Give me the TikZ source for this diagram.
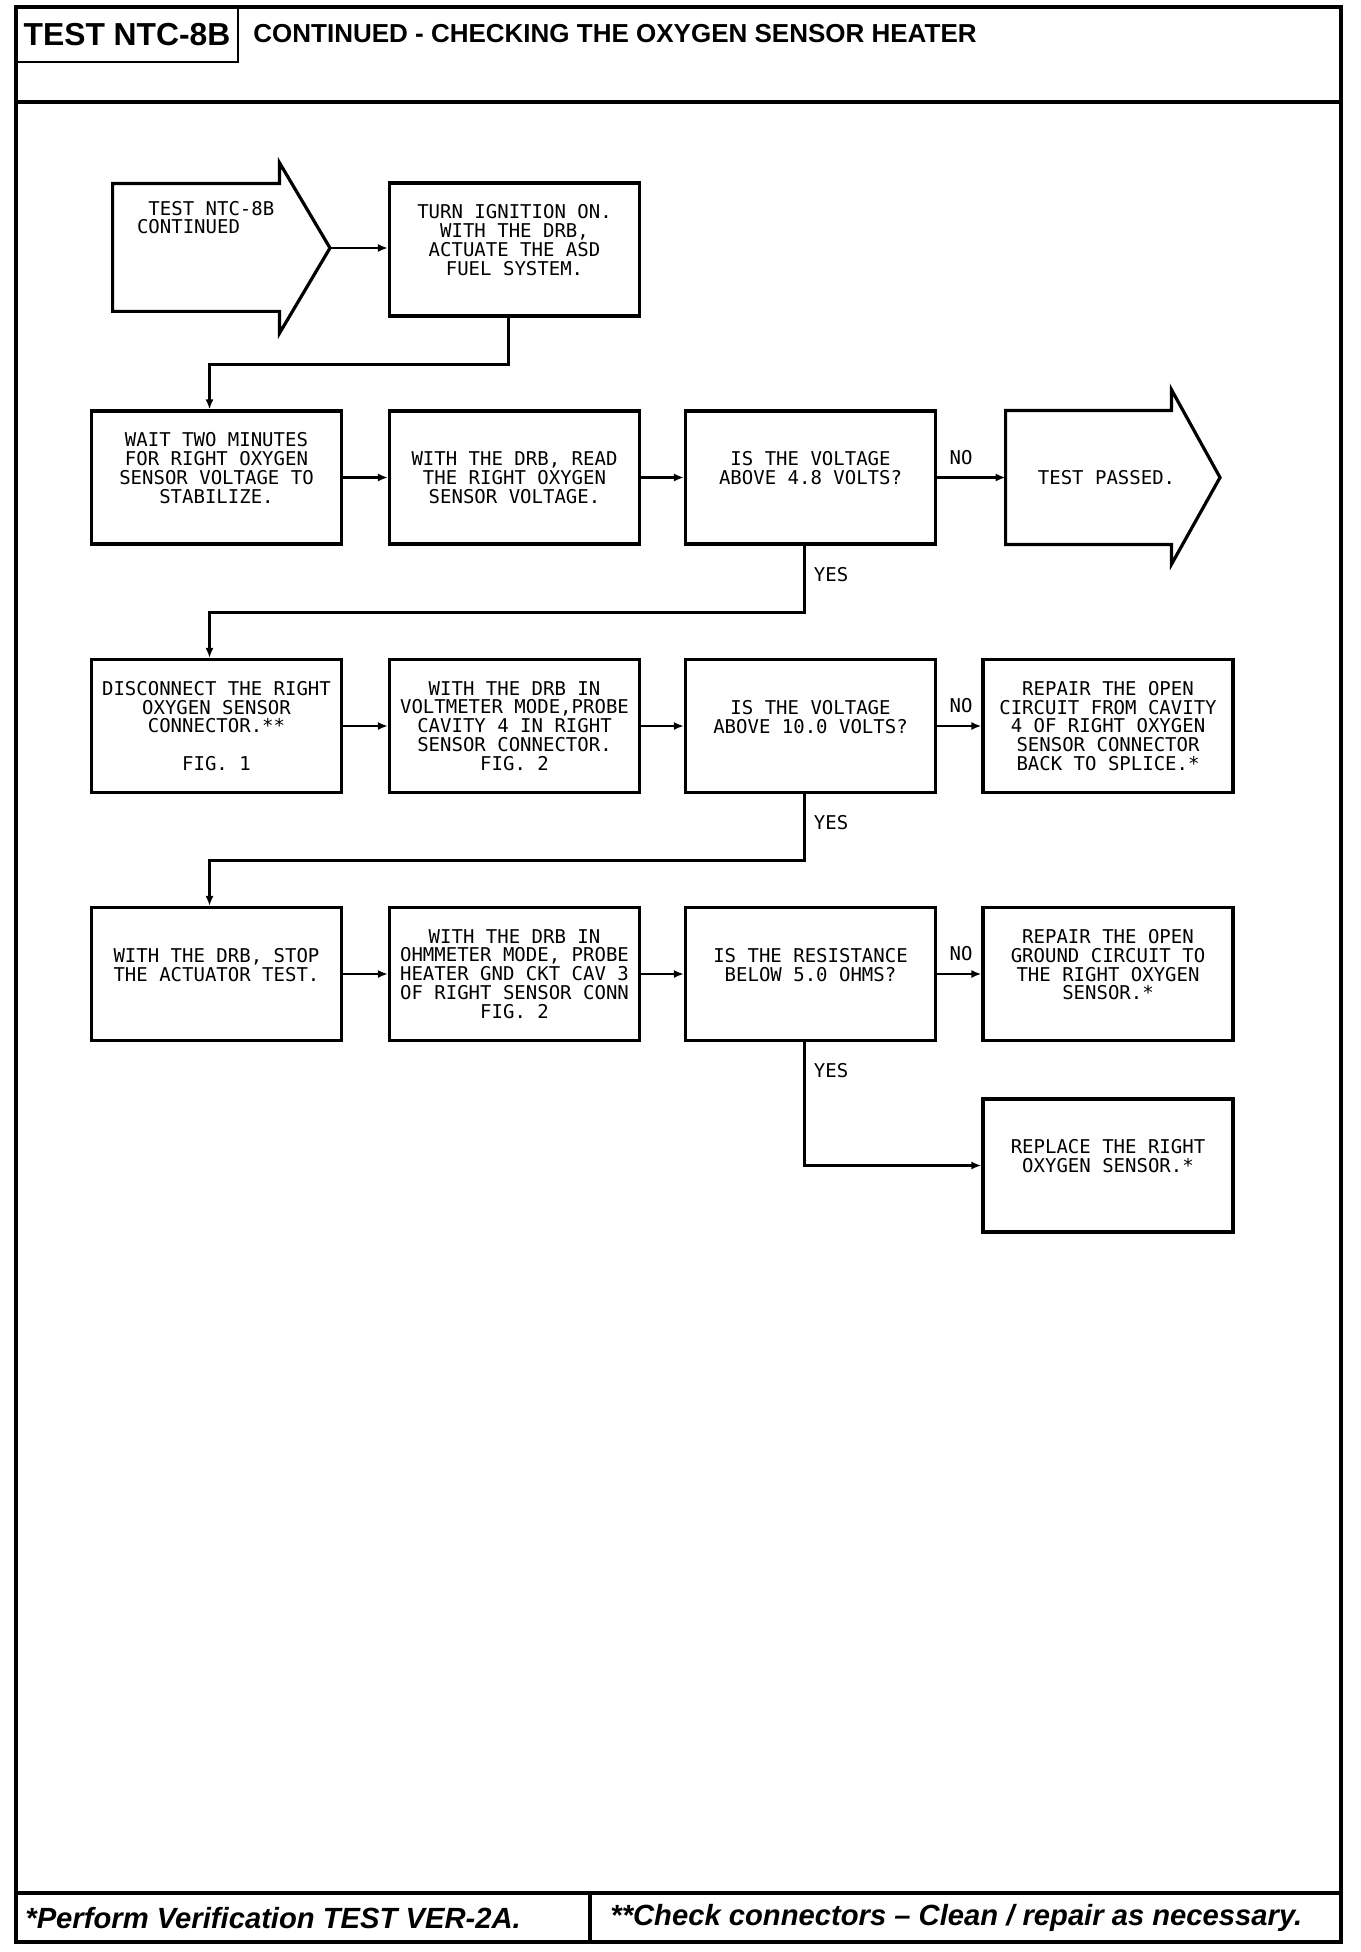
\documentclass[tikz,border=0pt]{standalone}
\usepackage{fontspec}
\setmainfont{Liberation Sans}
\newfontfamily\plotfont{DejaVu Sans Mono}
\usetikzlibrary{arrows.meta}

\begin{document}
\begin{tikzpicture}[x=.5pt,y=-.5pt,>={Latex[length=5pt,width=4pt]},
  box/.style={draw,line width=1.6pt,minimum width=125pt,minimum height=66.5pt,inner sep=0pt,align=center,font={\fontsize{9.5}{9.4}\plotfont}},
  txt/.style={inner sep=0pt,align=center,font={\fontsize{9.5}{9.4}\plotfont}},
  shell/.style={inner sep=0pt,minimum width=#1,minimum height=65pt},
  flow/.style={->,line width=1.4pt},
  rule/.style={line width=1.8pt}]
\useasboundingbox (0,0) rectangle (1360,1952);
\draw[rule] (16,7) rectangle (1341,1942);\draw[rule] (16,102)--(1341,102);
\draw[rule] (16,1893)--(1341,1893);\draw[rule] (590,1893)--(590,1942);
\node[draw,line width=1pt,minimum width=111pt,minimum height=27.5pt,font=\bfseries\fontsize{15.9}{18}\selectfont] (code) at (127,34.5){TEST NTC-8B};
\node[anchor=west,inner sep=0pt,font=\bfseries\fontsize{13}{15}\selectfont] (title) at (253,34){CONTINUED - CHECKING THE OXYGEN SENSOR HEATER};
\node[anchor=west,inner sep=0pt,font=\bfseries\itshape\fontsize{14.6}{17}\selectfont] (note1) at (25,1918){*Perform Verification TEST VER-2A.};
\node[anchor=west,inner sep=0pt,font=\bfseries\itshape\fontsize{14.6}{17}\selectfont] (note2) at (610,1918){**Check connectors -- Clean / repair as necessary.};
\node[shell=83pt,minimum height=63.5pt] (start) at (196,247.5){};\coordinate (starttip) at (330,248);
\draw[line width=1.6pt] (start.north west)--(start.north east)--([shift={(0,-21)}]start.north east)--(starttip)--([shift={(0,22)}]start.south east)--(start.south east)--(start.south west)--cycle;
\node[txt,align=left,anchor=north west] (starttxt) at ([shift={(24,17)}]start.north west){~TEST NTC-8B\\CONTINUED};
\node[box] (turn) at (514.5,249.5){TURN IGNITION ON.\\WITH THE DRB,\\ACTUATE THE ASD\\FUEL SYSTEM.\\~};
\node[box] (wait) at (216.5,477.5){WAIT TWO MINUTES\\FOR RIGHT OXYGEN\\SENSOR VOLTAGE TO\\STABILIZE.\\~};
\node[box] (read) at (514.5,477.5){WITH THE DRB, READ\\THE RIGHT OXYGEN\\SENSOR VOLTAGE.};
\node[box] (q1) at (810.5,477.5){IS THE VOLTAGE\\ABOVE 4.8 VOLTS?\\~};
\node[shell=82.5pt,minimum height=66.5pt] (pass) at (1088.5,477.5){};\coordinate (passtip) at (1220,477.5);
\draw[line width=1.6pt] (pass.north west)--(pass.north east)--([shift={(0,-21)}]pass.north east)--(passtip)--([shift={(0,20)}]pass.south east)--(pass.south east)--(pass.south west)--cycle;
\node[txt] (passtxt) at ([shift={(18,0)}]pass.center){TEST PASSED.};
\node[box] (disc) at (216.5,726){DISCONNECT THE RIGHT\\OXYGEN SENSOR\\CONNECTOR.**\\~\\FIG. 1};
\node[box] (probe) at (514.5,726){WITH THE DRB IN\\VOLTMETER MODE,PROBE\\CAVITY 4 IN RIGHT\\SENSOR CONNECTOR.\\FIG. 2};
\node[box] (q2) at (810.5,726){IS THE VOLTAGE\\ABOVE 10.0 VOLTS?\\~};
\node[box] (fix1) at (1108,726){REPAIR THE OPEN\\CIRCUIT FROM CAVITY\\4 OF RIGHT OXYGEN\\SENSOR CONNECTOR\\BACK TO SPLICE.*};
\node[box] (stop) at (216.5,974){WITH THE DRB, STOP\\THE ACTUATOR TEST.\\~};
\node[box] (ohm) at (514.5,974){WITH THE DRB IN\\OHMMETER MODE, PROBE\\HEATER GND CKT CAV 3\\OF RIGHT SENSOR CONN\\FIG. 2};
\node[box] (q3) at (810.5,974){IS THE RESISTANCE\\BELOW 5.0 OHMS?\\~};
\node[box] (fix2) at (1108,974){REPAIR THE OPEN\\GROUND CIRCUIT TO\\THE RIGHT OXYGEN\\SENSOR.*\\~};
\node[box] (repl) at (1108,1165.5){REPLACE THE RIGHT\\OXYGEN SENSOR.*\\~};
\draw[flow] (starttip)--(turn.west|-starttip);
\draw[flow] ([shift={(-6,0)}]turn.south)--++(0,47)-|([shift={(-7,0)}]wait.north);
\draw[flow] (wait.east)--(read.west);\draw[flow] (read.east)--(q1.west);\draw[flow] (q1.east)--(pass.west);
\draw[flow] ([shift={(-6,0)}]q1.south)--++(0,67)-|([shift={(-7,0)}]disc.north);
\draw[flow] (disc.east)--(probe.west);\draw[flow] (probe.east)--(q2.west);\draw[flow] (q2.east)--(fix1.west);
\draw[flow] ([shift={(-6,0)}]q2.south)--++(0,66)-|([shift={(-7,0)}]stop.north);
\draw[flow] (stop.east)--(ohm.west);\draw[flow] (ohm.east)--(q3.west);\draw[flow] (q3.east)--(fix2.west);
\draw[flow] ([shift={(-6,0)}]q3.south)|-(repl.west);
\node[txt] (no1) at ([shift={(24,-20)}]q1.east){NO};\node[txt] (no2) at ([shift={(24,-20)}]q2.east){NO};\node[txt] (no3) at ([shift={(24,-20)}]q3.east){NO};
\node[txt,anchor=north west] (yes1) at ([shift={(3,21)}]q1.south){YES};\node[txt,anchor=north west] (yes2) at ([shift={(3,21)}]q2.south){YES};\node[txt,anchor=north west] (yes3) at ([shift={(3,21)}]q3.south){YES};
\end{tikzpicture}
\end{document}
